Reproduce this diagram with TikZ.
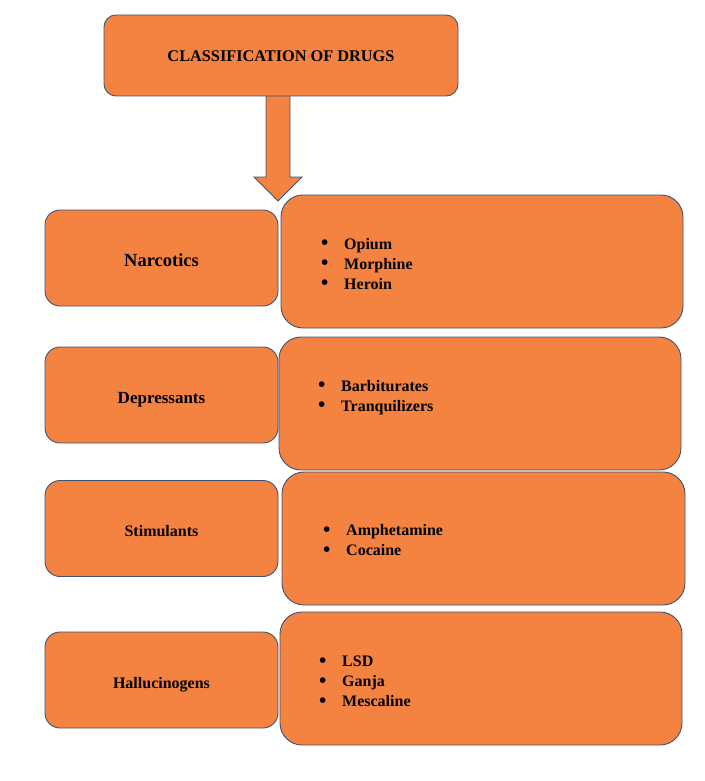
\documentclass[tikz,border=0pt]{standalone}
\usepackage{fontspec}
\setmainfont{Liberation Serif}
\usetikzlibrary{calc}
\definecolor{boxfill}{RGB}{244,130,64}
\definecolor{boxline}{RGB}{65,82,115}
\tikzset{%
  titlebox/.style={rectangle,rounded corners=12pt,draw=boxline,fill=boxfill,
    line width=0.9pt,minimum width=354pt,minimum height=81pt,
    text height=12.8pt,text depth=0pt,
    font=\fontsize{16.3}{19}\selectfont\bfseries},
  kind/.style={rectangle,rounded corners=15pt,draw=boxline,fill=boxfill,
    line width=0.9pt,minimum width=233pt,minimum height=96pt,
    text height=16pt,text depth=0pt,
    font=\fontsize{16}{19}\selectfont\bfseries},
  examples/.style={rectangle,rounded corners=22pt,draw=boxline,fill=boxfill,
    line width=0.9pt,minimum width=402pt,minimum height=133pt},
  items/.style={anchor=west,align=left,inner sep=0pt,
    font=\fontsize{16}{20}\selectfont\bfseries}
}
\newcommand{\itm}[1]{\makebox[23pt][l]{\raisebox{-0.04em}{\scalebox{1.3}{\textbullet}}}#1}

\begin{document}
\begin{tikzpicture}[x=1pt,y=-1pt]
    \useasboundingbox (0,0) rectangle (704,781);

    % down arrow below the title
    \coordinate (tip) at (278,201);
    \draw [boxline,fill=boxfill,line width=0.9pt]
      (266,96) -- (266,177) -- (254,177) -- (tip) -- (302,177) -- (290,177) -- (290,96);

    \node [titlebox] (title) at (281,55.5) {CLASSIFICATION OF DRUGS};

    % the four classes
    \node [kind,font=\fontsize{18.5}{22}\selectfont\bfseries] (narc) at (161.5,258) {Narcotics};
    \node [kind,font=\fontsize{17}{20}\selectfont\bfseries] (depr) at (161.5,395) {Depressants};
    \node [kind] (stim) at (161.5,528.5) {Stimulants};
    \node [kind] (hall) at (161.5,680) {Hallucinogens};

    % the examples of each class
    \node [examples] (narcEx) at (482,261.5) {};
    \node [examples] (deprEx) at (480,403.5) {};
    \node [examples,minimum width=403pt] (stimEx) at (483.5,538.5) {};
    \node [examples] (hallEx) at (481,678.5) {};

    \node [items] (narcList) at (321,264) {\itm{Opium}\\ \itm{Morphine}\\ \itm{Heroin}};
    \node [items] (deprList) at (318,397.5) {\itm{Barbiturates}\\ \itm{Tranquilizers}};
    \node [items] (stimList) at (323,540.5) {\itm{Amphetamine}\\ \itm{Cocaine}};
    \node [items] (hallList) at (319,681.5) {\itm{LSD}\\ \itm{Ganja}\\ \itm{Mescaline}};
\end{tikzpicture}
\end{document}
